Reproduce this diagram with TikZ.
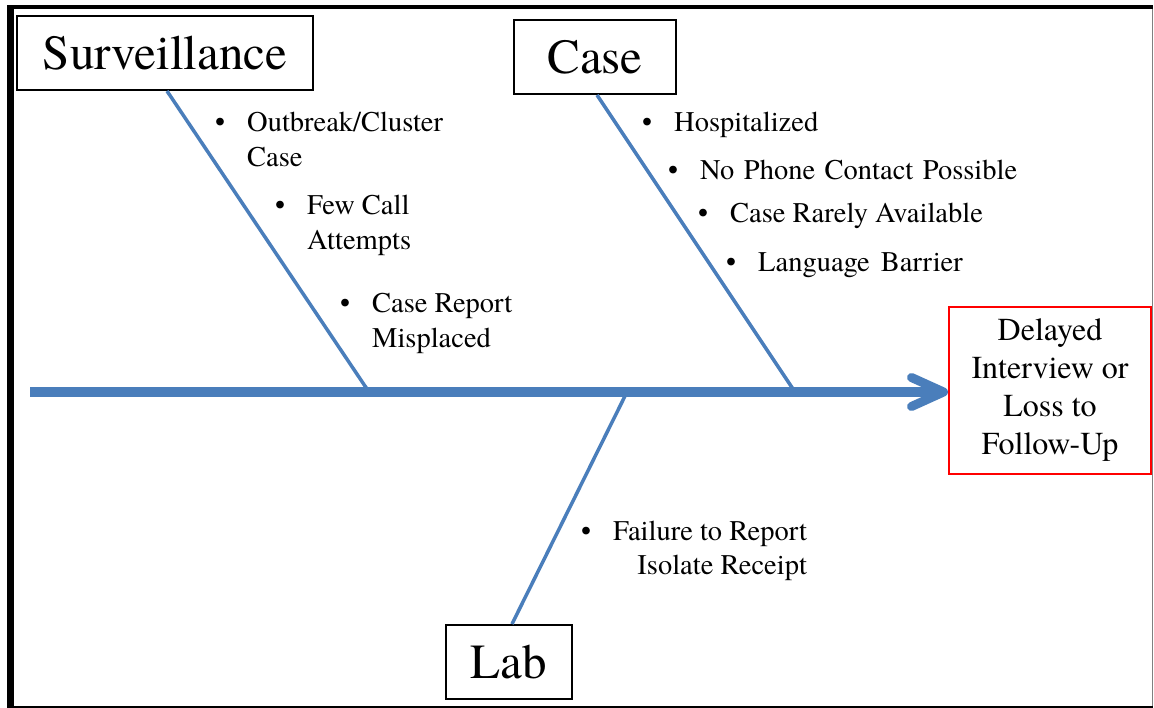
\documentclass[tikz,border=0pt]{standalone}
\usepackage{fontspec}
\newfontfamily\diagfont{TeX Gyre Termes}
\newcommand\bul{\makebox[32pt][l]{•}}
\definecolor{fishblue}{RGB}{74,126,187}
\begin{document}
\begin{tikzpicture}[x=1pt,y=-1pt,
  catbox/.style={draw=black, line width=2pt, fill=white, inner sep=0pt,
    minimum height=74pt, font=\diagfont\fontsize{49}{58}\selectfont},
  effectbox/.style={draw=red, line width=2pt, fill=white, inner sep=0pt,
    minimum width=202pt, minimum height=167pt, align=center,
    font=\diagfont\fontsize{32}{38}\selectfont},
  item/.style={anchor=base west, inner sep=0pt, font=\diagfont\fontsize{28.5}{34.5}\selectfont},
  branch/.style={draw=fishblue, line width=3.5pt},
  spine/.style={draw=fishblue, line width=10pt},
  chevron/.style={draw=fishblue, line width=9pt, line cap=round, line join=round}]
\useasboundingbox (0,0) rectangle (1154,708);
% frame
\fill[black] (7,5) rectangle (1153,708);
\fill[white] (14,9) rectangle (1152,705.5);
\draw[gray, line width=1pt] (1152.5,9) -- (1152.5,705.5);

% boxes
\node[catbox, minimum width=296pt] (surv) at (165,53) {Surveillance};
\node[catbox, minimum width=162pt] (case) at (595,57) {Case};
\node[catbox, minimum width=126pt] (lab) at (509,662) {Lab};
\node[effectbox] (eff) at (1050,390.5) {Delayed\\Interview or\\Loss to\\Follow-Up};

% spine coordinates
\coordinate (tail) at (30,392);
\coordinate (tip) at (943.5,392);
\coordinate (j1) at (369,392);
\coordinate (j2) at (795,392);
\coordinate (j3) at (627,392);

% branches
\draw[branch] ([xshift=2pt]surv.south) -- (j1);
\draw[branch] ([xshift=2pt]case.south) -- (j2);
\draw[branch] ([xshift=3pt]lab.north) -- (j3);

% spine and arrow head
\draw[spine] (tail) -- ([xshift=-6pt]tip);
\draw[chevron] ([xshift=-32pt,yshift=14.5pt]tip) -- (tip) -- ([xshift=-32pt,yshift=-14.5pt]tip);

% items
\node[item] (s1) at (215,132) {\begin{tabular}[t]{@{}l@{}l@{}}\bul&Outbreak/Cluster\\&Case\end{tabular}};
\node[item] (s2) at (275,215) {\begin{tabular}[t]{@{}l@{}l@{}}\bul&Few Call\\&Attempts\end{tabular}};
\node[item] (s3) at (340,313) {\begin{tabular}[t]{@{}l@{}l@{}}\bul&Case Report\\&Misplaced\end{tabular}};

\node[item] (c1) at (642,132) {\bul Hospitalized};
\node[item] (c2) at (668,180) {\bul No\hspace{9.5pt}Phone\hspace{9.5pt}Contact\hspace{9.5pt}Possible};
\node[item] (c3) at (698,223) {\bul Case Rarely Available};
\node[item] (c4) at (726,272) {\bul Language\hspace{11pt}Barrier};

\node[item] (l1) at (581,540) {\begin{tabular}[t]{@{}l@{}r@{}}\bul&Failure to Report\\&Isolate Receipt\end{tabular}};
\end{tikzpicture}
\end{document}
